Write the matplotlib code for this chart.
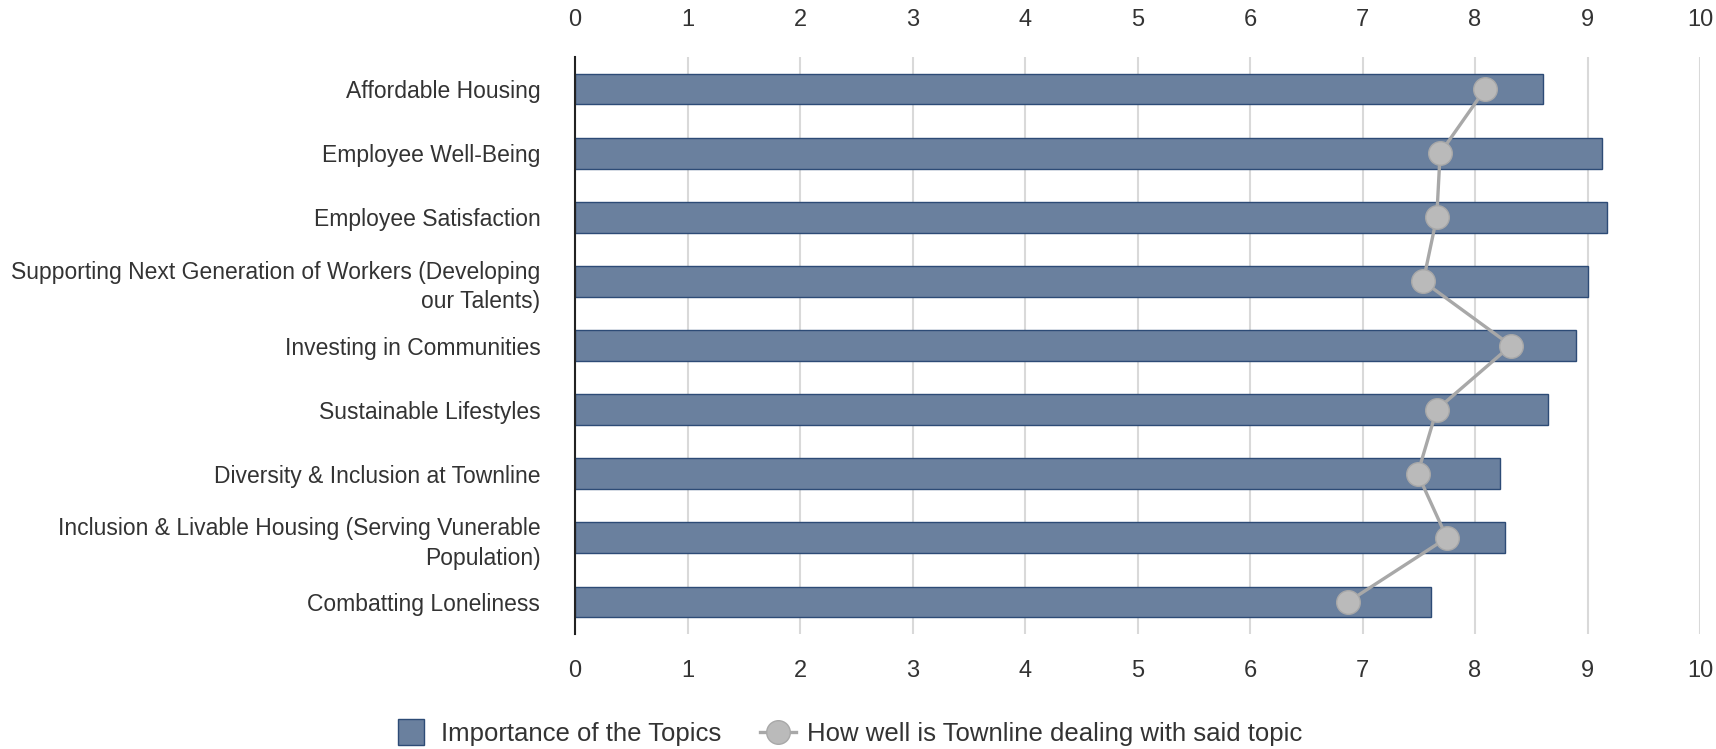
import matplotlib
matplotlib.use("Agg")
import matplotlib.pyplot as plt
from matplotlib.lines import Line2D

plt.rcParams["font.family"] = ["Liberation Sans", "DejaVu Sans"]

categories = [
    "Affordable Housing",
    "Employee Well-Being",
    "Employee Satisfaction",
    "Supporting Next Generation of Workers (Developing\nour Talents)",
    "Investing in Communities",
    "Sustainable Lifestyles",
    "Diversity & Inclusion at Townline",
    "Inclusion & Livable Housing (Serving Vunerable\nPopulation)",
    "Combatting Loneliness",
]
importance = [8.60, 9.13, 9.17, 9.00, 8.90, 8.65, 8.22, 8.27, 7.61]
performance = [8.09, 7.69, 7.66, 7.54, 8.32, 7.66, 7.49, 7.75, 6.87]
xticks = list(range(0, 11))
series_labels = ["Importance of the Topics", "How well is Townline dealing with said topic"]

BAR = "#6a809e"
BAR_EDGE = "#2d4b76"
DOT = "#bababa"
LINE = "#a8a8a8"
TXT = "#333333"

W, H = 1716, 749
fig = plt.figure(figsize=(W / 100, H / 100), dpi=100)
ax = fig.add_axes([575 / W, 1 - 634 / H, (1700 - 575) / W, (634 - 57) / H])

y = list(range(len(categories)))
ax.barh(y, importance, height=0.48, color=BAR, edgecolor=BAR_EDGE, linewidth=1, zorder=2)
ax.plot(performance, y, color=LINE, lw=2.4, marker="o", ms=17,
        mfc=DOT, mec=LINE, mew=1, zorder=3)

ax.set_xlim(0, 10)
ax.set_ylim(len(categories) - 0.5, -0.5)
ax.set_xticks(xticks)
ax.set_yticks(y)
ax.set_yticklabels(categories, fontsize=16.5, color=TXT, linespacing=1.35)
ax.xaxis.grid(True, color="#d9d9d9", lw=1.5, zorder=0)
ax.set_axisbelow(True)
for s in ["top", "right", "bottom"]:
    ax.spines[s].set_visible(False)
ax.spines["left"].set_color("#222222")
ax.spines["left"].set_linewidth(1.5)
ax.spines["left"].set_zorder(4)

ax.tick_params(axis="y", left=False, pad=21.5)
ax.tick_params(axis="x", bottom=False, top=False, labelsize=17, labelcolor=TXT, pad=15)

sec = ax.secondary_xaxis("top")
sec.set_xticks(xticks)
sec.spines["top"].set_visible(False)
sec.tick_params(axis="x", top=False, labelsize=17, labelcolor=TXT, pad=15.5)

handles = [
    Line2D([], [], ls="none", marker="s", ms=18.7, mfc=BAR, mec=BAR_EDGE, mew=1),
    Line2D([], [], color=LINE, lw=2.4, marker="o", ms=17, mfc=DOT, mec=LINE, mew=1),
]
leg = fig.legend(handles, series_labels, loc="center", bbox_to_anchor=(848 / W, 1 - 734 / H),
                 ncol=2, frameon=False, fontsize=18.5, handlelength=1.4,
                 handletextpad=0.45, columnspacing=1.5)
for t in leg.get_texts():
    t.set_color(TXT)

fig.savefig("out.png", dpi=100, facecolor="white")
